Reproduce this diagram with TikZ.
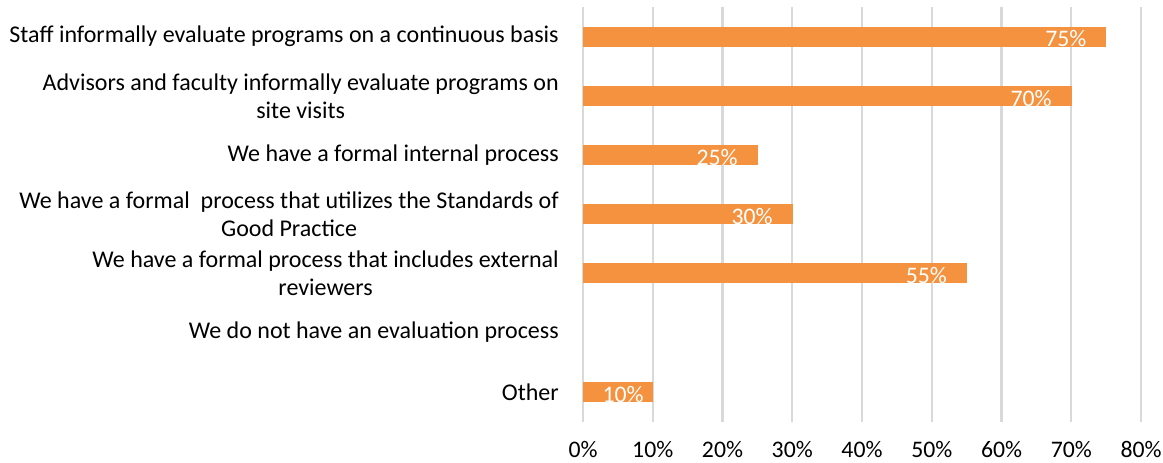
\documentclass[tikz,border=0pt]{standalone}
\usepackage{fontspec}
\setmainfont{Carlito}
\usetikzlibrary{positioning}
\definecolor{barorange}{RGB}{244,146,63}
\definecolor{gridgray}{RGB}{217,217,217}
\tikzstyle{barbox} = [rectangle, fill=barorange, minimum height=15pt, inner sep=0pt, anchor=west]
\tikzstyle{valuelabel} = [text=white, font=\fontsize{17.8}{20}\selectfont, inner sep=0pt, anchor=base east]
\tikzstyle{catlabel} = [align=center, anchor=east, font=\fontsize{18}{21}\selectfont, inner sep=0pt]
\tikzstyle{ticklabel} = [font=\fontsize{17.8}{20}\selectfont, inner sep=0pt, anchor=base]
\tikzstyle{gridline} = [draw=gridgray, line width=1.6pt]
\begin{document}
\begin{tikzpicture}[x=0.75pt, y=-0.75pt]
    \useasboundingbox (0,0) rectangle (1163,463);

    % vertical grid lines
    \draw[gridline] (583,7) -- (583,422);
    \draw[gridline] (652.75,7) -- (652.75,422);
    \draw[gridline] (722.5,7) -- (722.5,422);
    \draw[gridline] (792.25,7) -- (792.25,422);
    \draw[gridline] (862,7) -- (862,422);
    \draw[gridline] (931.75,7) -- (931.75,422);
    \draw[gridline] (1001.5,7) -- (1001.5,422);
    \draw[gridline] (1071.25,7) -- (1071.25,422);
    \draw[gridline] (1141,7) -- (1141,422);

    % axis labels
    \node[ticklabel] (t0) at (583,457) {0\%};
    \node[ticklabel] (t10) at (652.75,457) {10\%};
    \node[ticklabel] (t20) at (722.5,457) {20\%};
    \node[ticklabel] (t30) at (792.25,457) {30\%};
    \node[ticklabel] (t40) at (862,457) {40\%};
    \node[ticklabel] (t50) at (931.75,457) {50\%};
    \node[ticklabel] (t60) at (1001.5,457) {60\%};
    \node[ticklabel] (t70) at (1071.25,457) {70\%};
    \node[ticklabel] (t80) at (1141,457) {80\%};

    % bars
    \node[barbox, minimum width=75*5.23125pt] (staff) at (583,36.6) {};
    \node[barbox, minimum width=70*5.23125pt] (advisors) at (583,95.8) {};
    \node[barbox, minimum width=25*5.23125pt] (internal) at (583,155) {};
    \node[barbox, minimum width=30*5.23125pt] (standards) at (583,214.2) {};
    \node[barbox, minimum width=55*5.23125pt] (external) at (583,273.4) {};
    \node[barbox, minimum width=10*5.23125pt] (other) at (583,391.8) {};

    % values
    \node[valuelabel] at ([xshift=-15pt]staff.south east) {75\%};
    \node[valuelabel] at ([xshift=-15pt]advisors.south east) {70\%};
    \node[valuelabel] at ([xshift=-15pt]internal.south east) {25\%};
    \node[valuelabel] at ([xshift=-15pt]standards.south east) {30\%};
    \node[valuelabel] at ([xshift=-15pt]external.south east) {55\%};
    \node[valuelabel] at ([xshift=-7pt]other.south east) {10\%};

    % categories
    \node[catlabel] (c1) at (559,36.6) {Staff informally evaluate programs on a continuous basis};
    \node[catlabel] (c2) at (559,95.8) {Advisors and faculty informally evaluate programs on\\site visits};
    \node[catlabel] (c3) at (559,155) {We have a formal internal process};
    \node[catlabel] (c4) at (559,214.2) {We have a formal\ \ process that utilizes the Standards of\\Good Practice};
    \node[catlabel] (c5) at (559,273.4) {We have a formal process that includes external\\reviewers};
    \node[catlabel] (c6) at (559,332.6) {We do not have an evaluation process};
    \node[catlabel] (c7) at (559,391.8) {Other};
\end{tikzpicture}
\end{document}
